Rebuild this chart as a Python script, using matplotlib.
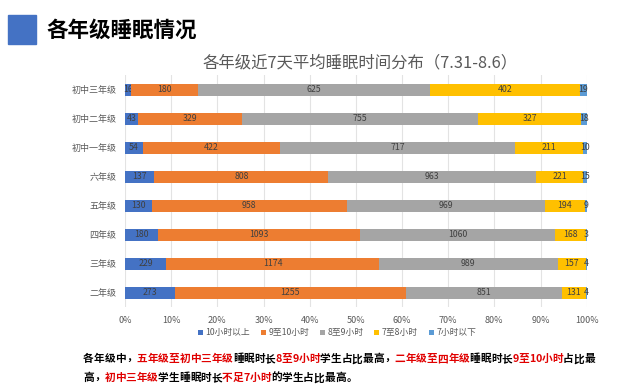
import matplotlib
matplotlib.use("Agg")
import matplotlib.pyplot as plt
import numpy as np

plt.rcParams["font.family"] = ["Noto Sans CJK SC", "DejaVu Sans"]

grades = ["初中三年级", "初中二年级", "初中一年级", "六年级", "五年级", "四年级", "三年级", "二年级"]
series_names = ["10小时以上", "9至10小时", "8至9小时", "7至8小时", "7小时以下"]
over_10h = [16, 43, 54, 137, 130, 180, 229, 273]
h9_10 = [180, 329, 422, 808, 958, 1093, 1174, 1255]
h8_9 = [625, 755, 717, 963, 969, 1060, 989, 851]
h7_8 = [402, 327, 211, 221, 194, 168, 157, 131]
under_7h = [19, 18, 10, 15, 9, 3, 4, 4]
colors = ["#4472C4", "#ED7D31", "#A5A5A5", "#FFC000", "#5B9BD5"]
x_ticks = [0, 10, 20, 30, 40, 50, 60, 70, 80, 90, 100]

counts = np.array([over_10h, h9_10, h8_9, h7_8, under_7h], dtype=float)
shares = counts / counts.sum(axis=0) * 100

fig = plt.figure(figsize=(6.4, 3.91), dpi=100)
ax = fig.add_axes([0.1953, 0.2136, 0.7214, 0.594])

y = np.arange(len(grades))
left = np.zeros(len(grades))
for i, name in enumerate(series_names):
    bars = ax.barh(y, shares[i], left=left, height=0.42, color=colors[i],
                   label=name, zorder=3)
    ax.bar_label(bars, labels=[str(int(v)) for v in counts[i]],
                 label_type="center", fontsize=6.3, color="#404040")
    left += shares[i]

ax.set_xlim(0, 100)
ax.set_ylim(len(grades) - 0.5, -0.5)
ax.set_yticks(y)
ax.set_yticklabels(grades, fontsize=6.5, color="#595959")
ax.set_xticks(x_ticks)
ax.set_xticklabels([f"{t}%" for t in x_ticks], fontsize=6.5, color="#595959")
ax.tick_params(length=0, pad=6)
ax.grid(axis="x", color="#E3E3E3", linewidth=0.8, zorder=0)
for s in ax.spines.values():
    s.set_visible(False)

ax.legend(loc="center", bbox_to_anchor=(337 / 640, 1 - 333 / 391),
          bbox_transform=fig.transFigure, ncol=5, frameon=False,
          fontsize=6.3, handlelength=0.6, handleheight=0.6, handletextpad=0.3,
          columnspacing=1.2, labelcolor="#595959")

fig.text(360 / 640, 1 - 63 / 391, "各年级近7天平均睡眠时间分布（7.31-8.6）",
         ha="center", va="center", fontsize=11.8, color="#595959")

# header
fig.patches.append(plt.Rectangle((8 / 640, 1 - 44 / 391), 28 / 640, 29 / 391,
                                 transform=fig.transFigure, color="#4472C4"))
fig.text(46 / 640, 1 - 30 / 391, "各年级睡眠情况", ha="left", va="center",
         fontsize=15.5, fontweight="bold", color="black")

# bottom remark with red highlights; laid out one glyph per cell so the
# colour changes don't shift the line
lines = [
    [("各年级中，", "k"), ("五年级至初中三年级", "r"), ("睡眠时长", "k"), ("8至9小时", "r"),
     ("学生占比最高，", "k"), ("二年级至四年级", "r"), ("睡眠时长", "k"), ("9至10小时", "r"),
     ("占比最", "k")],
    [("高，", "k"), ("初中三年级", "r"), ("学生睡眠时长", "k"), ("不足7小时", "r"),
     ("的学生占比最高。", "k")],
]
line_y = [359, 378]
x_start = 83
note_pt = 7.7
em = note_pt * fig.dpi / 72

for parts, yy in zip(lines, line_y):
    x = x_start
    for text, c in parts:
        color = "#E00000" if c == "r" else "black"
        for ch in text:
            w = em * (0.57 if ch.isascii() else 1.0)
            if ch in "，。":
                fig.text((x + 0.05 * em) / 640, 1 - yy / 391, ch, ha="left", va="center",
                         fontsize=note_pt, fontweight="bold", color=color)
            else:
                fig.text((x + w / 2) / 640, 1 - yy / 391, ch, ha="center", va="center",
                         fontsize=note_pt, fontweight="bold", color=color)
            x += w

fig.savefig("out.png", dpi=100)
